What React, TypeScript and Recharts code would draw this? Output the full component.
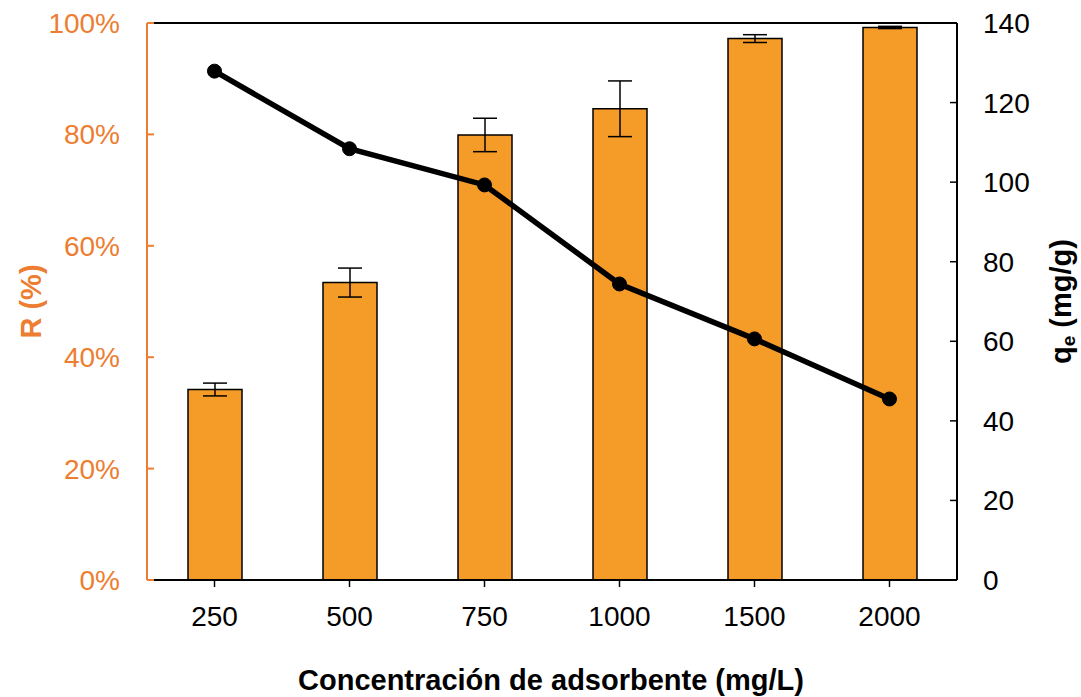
import React from 'react';
import { ComposedChart, Bar, Line, XAxis, YAxis, ErrorBar, ReferenceLine, Label } from 'recharts';

const concentrations = ['250', '500', '750', '1000', '1500', '2000'];
const removal = [34.2, 53.4, 79.9, 84.6, 97.2, 99.2];
const removalErr = [1.15, 2.6, 3.0, 5.0, 0.7, 0.2];
const qe = [127.9, 108.4, 99.3, 74.4, 60.6, 45.5];

const leftTicks = [0, 20, 40, 60, 80, 100];
const rightTicks = [0, 20, 40, 60, 80, 100, 120, 140];

const ORANGE_TEXT = '#ED7D31';
const BAR_FILL = '#F59B28';
const FONT = '"Liberation Sans", Arial, sans-serif';

const data = concentrations.map((c, i) => ({
  conc: c,
  r: removal[i],
  rErr: removalErr[i],
  qe: qe[i],
}));

const LeftTitle = (props: any) => {
  const { viewBox } = props;
  const cy = viewBox.y + viewBox.height / 2;
  return (
    <text
      x={31}
      y={cy}
      transform={`rotate(-90, 31, ${cy})`}
      textAnchor="middle"
      dominantBaseline="central"
      fill={ORANGE_TEXT}
      fontFamily={FONT}
      fontWeight="bold"
      fontSize={29}
    >
      R (%)
    </text>
  );
};

const RightTitle = (props: any) => {
  const { viewBox } = props;
  const cy = viewBox.y + viewBox.height / 2;
  const cx = 1061;
  return (
    <text
      x={cx}
      y={cy}
      transform={`rotate(-90, ${cx}, ${cy})`}
      textAnchor="middle"
      dominantBaseline="central"
      fill="#000"
      fontFamily={FONT}
      fontWeight="bold"
      fontSize={29}
    >
      q<tspan fontSize={19} dy={7}>e</tspan>
      <tspan dy={-7}> (mg/g)</tspan>
    </text>
  );
};

const BottomTitle = (props: any) => {
  const { viewBox } = props;
  return (
    <text
      x={551}
      y={viewBox.y + 110}
      textAnchor="middle"
      fill="#000"
      fontFamily={FONT}
      fontWeight="bold"
      fontSize={29}
    >
      Concentración de adsorbente (mg/L)
    </text>
  );
};

export default function App() {
  return (
    <div style={{ position: 'absolute', left: 0, top: 0, width: 1081, height: 697, background: '#fff' }}>
      <ComposedChart
        width={1081}
        height={697}
        data={data}
        margin={{ top: 23, right: 0, bottom: 0, left: 0 }}
      >
        <XAxis
          dataKey="conc"
          height={117}
          tick={{ fill: '#000', fontSize: 28, fontFamily: FONT }}
          tickSize={7}
          tickMargin={19}
          axisLine={{ stroke: '#000', strokeWidth: 2 }}
          tickLine={{ stroke: '#000', strokeWidth: 1.5 }}
        >
          <Label content={BottomTitle} />
        </XAxis>
        <YAxis
          yAxisId="left"
          orientation="left"
          width={147}
          domain={[0, 100]}
          ticks={leftTicks}
          tickFormatter={(v: number) => `${v}%`}
          tick={{ fill: ORANGE_TEXT, fontSize: 28, fontFamily: FONT }}
          tickSize={-7}
          tickMargin={34}
          axisLine={{ stroke: ORANGE_TEXT, strokeWidth: 2 }}
          tickLine={{ stroke: ORANGE_TEXT, strokeWidth: 2 }}
        >
          <Label content={LeftTitle} />
        </YAxis>
        <YAxis
          yAxisId="right"
          orientation="right"
          width={124}
          domain={[0, 140]}
          ticks={rightTicks}
          tick={{ fill: '#000', fontSize: 28, fontFamily: FONT }}
          tickSize={-7}
          tickMargin={33}
          axisLine={{ stroke: '#000', strokeWidth: 2 }}
          tickLine={{ stroke: '#000', strokeWidth: 1.5 }}
        >
          <Label content={RightTitle} />
        </YAxis>
        <ReferenceLine yAxisId="left" y={100} stroke="#000" strokeWidth={2} ifOverflow="extendDomain" />
        <Bar
          yAxisId="left"
          dataKey="r"
          fill={BAR_FILL}
          stroke="#000"
          strokeWidth={1.5}
          barSize={54}
          isAnimationActive={false}
        >
          <ErrorBar dataKey="rErr" width={12} stroke="#000" strokeWidth={1.5} direction="y" />
        </Bar>
        <Line
          yAxisId="right"
          dataKey="qe"
          type="linear"
          stroke="#000"
          strokeWidth={5.5}
          dot={{ r: 7, fill: '#000', stroke: '#000', strokeWidth: 1 }}
          activeDot={false}
          isAnimationActive={false}
        />
      </ComposedChart>
    </div>
  );
}
